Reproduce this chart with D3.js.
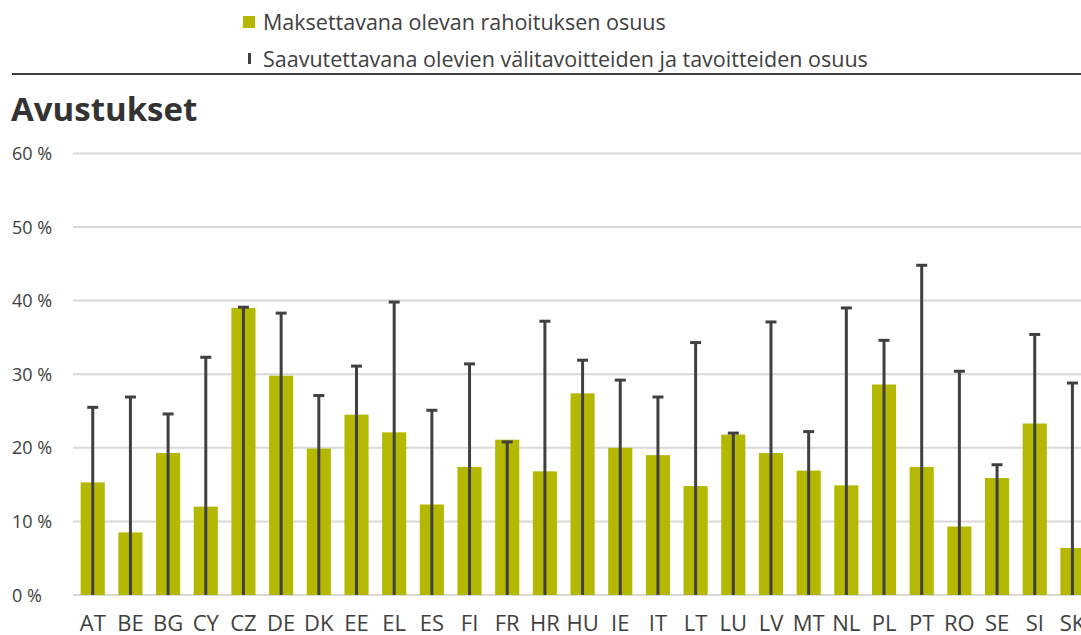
<!DOCTYPE html>
<html>
<head>
<meta charset="utf-8">
<script src="https://cdn.jsdelivr.net/npm/d3@7"></script>
<style>
  body { margin: 0; background: #fff; }
  text { font-family: "Open Sans", sans-serif; fill: #404040; }
</style>
</head>
<body>
<div id="chart"></div>
<script>
// data (percent)
const countries = ["AT","BE","BG","CY","CZ","DE","DK","EE","EL","ES","FI","FR","HR","HU",
                   "IE","IT","LT","LU","LV","MT","NL","PL","PT","RO","SE","SI","SK"];
const paidShare = [15.3, 8.5, 19.3, 12.0, 39.0, 29.8, 19.9, 24.5, 22.1, 12.3, 17.4, 21.1, 16.8, 27.4,
                   20.0, 19.0, 14.8, 21.8, 19.3, 16.9, 14.9, 28.6, 17.4, 9.3, 15.9, 23.3, 6.4];
const milestoneShare = [25.5, 26.9, 24.6, 32.3, 39.1, 38.3, 27.1, 31.1, 39.8, 25.1, 31.4, 20.8, 37.2, 31.9,
                        29.2, 26.9, 34.3, 22.0, 37.1, 22.2, 39.0, 34.6, 44.8, 30.4, 17.7, 35.4, 28.8];
const yTicks = [0, 10, 20, 30, 40, 50, 60];
const legendLabels = ["Maksettavana olevan rahoituksen osuus",
                      "Saavutettavana olevien välitavoitteiden ja tavoitteiden osuus"];
const title = "Avustukset";

const W = 1081, H = 635;
const barColor = "#b5b800", errColor = "#404040", gridColor = "#d9d9d9";

const data = countries.map((c, i) => ({ c, paid: paidShare[i], ms: milestoneShare[i] }));

const svg = d3.select("#chart").append("svg")
    .attr("width", W).attr("height", H);

// scales (chart is cropped at the right edge, like the reference)
const step = 37.68;
const x = d3.scaleBand()
    .domain(countries)
    .range([73.9, 73.9 + step * countries.length])
    .paddingInner(0.36)
    .paddingOuter(0.18);

const y = d3.scaleLinear().domain([0, 60]).range([595, 153.4]);

// legend
const legend = svg.append("g");
legend.append("rect")
    .attr("x", 243).attr("y", 16).attr("width", 12).attr("height", 12)
    .attr("fill", barColor);
legend.append("rect")
    .attr("x", 248).attr("y", 53).attr("width", 3).attr("height", 11)
    .attr("fill", errColor);
legend.selectAll("text.leg")
    .data(legendLabels)
    .enter().append("text")
    .attr("class", "leg")
    .attr("x", 263)
    .attr("y", (d, i) => 30 + i * 37)
    .style("font-size", "21.5px")
    .text(d => d);

// top separator
svg.append("line")
    .attr("x1", 12).attr("x2", W)
    .attr("y1", 74).attr("y2", 74)
    .attr("stroke", "#404040").attr("stroke-width", 2);

// title
svg.append("text")
    .attr("x", 11).attr("y", 121)
    .style("font-size", "33px").style("font-weight", "bold")
    .style("fill", "#333")
    .text(title);

// gridlines
svg.append("g").selectAll("line")
    .data(yTicks)
    .enter().append("line")
    .attr("x1", 73).attr("x2", W)
    .attr("y1", d => y(d)).attr("y2", d => y(d))
    .attr("stroke", gridColor).attr("stroke-width", 2);

// y tick labels
svg.append("g").selectAll("text")
    .data(yTicks)
    .enter().append("text")
    .attr("x", 12)
    .attr("y", d => y(d) + 6.5)
    .style("font-size", "18px")
    .text(d => d + " %");

// bars
svg.append("g").selectAll("rect")
    .data(data)
    .enter().append("rect")
    .attr("x", d => x(d.c))
    .attr("y", d => y(d.paid))
    .attr("width", x.bandwidth())
    .attr("height", d => y(0) - y(d.paid))
    .attr("fill", barColor);

// milestone lines with caps
const err = svg.append("g");
err.selectAll("line.stem")
    .data(data)
    .enter().append("line")
    .attr("class", "stem")
    .attr("x1", d => x(d.c) + x.bandwidth() / 2)
    .attr("x2", d => x(d.c) + x.bandwidth() / 2)
    .attr("y1", y(0)).attr("y2", d => y(d.ms))
    .attr("stroke", errColor).attr("stroke-width", 3);
err.selectAll("line.cap")
    .data(data)
    .enter().append("line")
    .attr("class", "cap")
    .attr("x1", d => x(d.c) + x.bandwidth() / 2 - 5.5)
    .attr("x2", d => x(d.c) + x.bandwidth() / 2 + 5.5)
    .attr("y1", d => y(d.ms)).attr("y2", d => y(d.ms))
    .attr("stroke", errColor).attr("stroke-width", 3);

// x labels
svg.append("g").selectAll("text")
    .data(countries)
    .enter().append("text")
    .attr("x", d => x(d) + x.bandwidth() / 2)
    .attr("y", 631)
    .attr("text-anchor", "middle")
    .style("font-size", "22px")
    .text(d => d);
</script>
</body>
</html>
